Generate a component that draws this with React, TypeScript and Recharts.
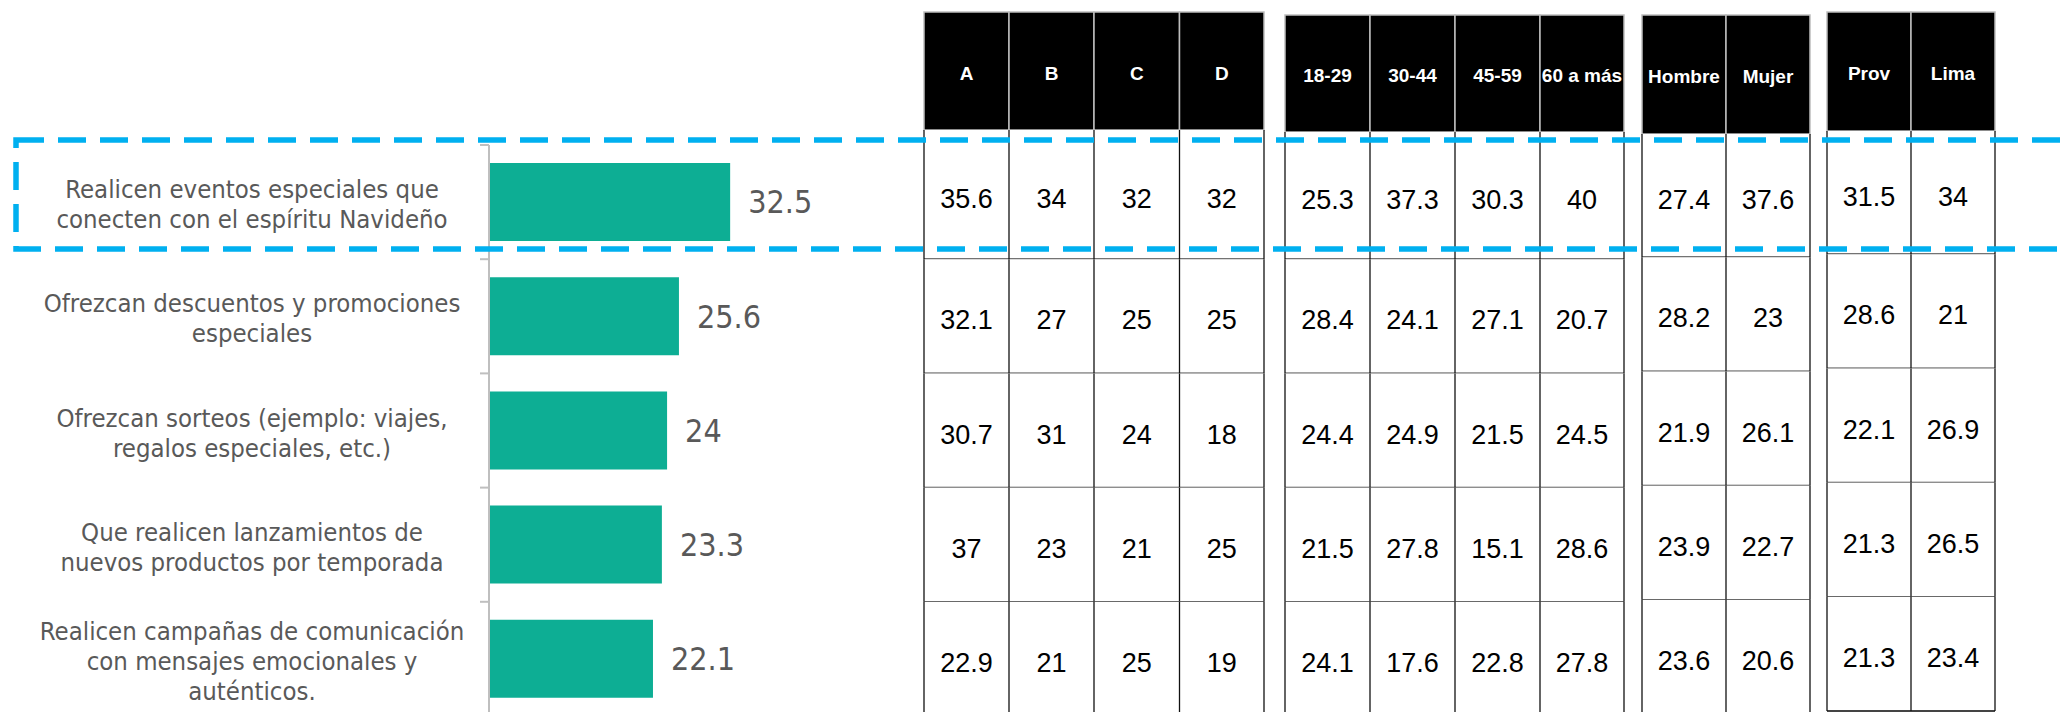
import { Bar, BarChart, Customized, LabelList, XAxis, YAxis } from "recharts"

/******************************************************************************
                              Data
******************************************************************************/

const CATEGORIES = [
  ["Realicen eventos especiales que", "conecten con el espíritu Navideño"],
  ["Ofrezcan descuentos y promociones", "especiales"],
  ["Ofrezcan sorteos (ejemplo: viajes,", "regalos especiales, etc.)"],
  ["Que realicen lanzamientos de", "nuevos productos por temporada"],
  ["Realicen campañas de comunicación", "con mensajes emocionales y", "auténticos."],
]

const TOTAL = [32.5, 25.6, 24, 23.3, 22.1]

const NSE_HEADERS = ["A", "B", "C", "D"]
const NSE_A = [35.6, 32.1, 30.7, 37, 22.9]
const NSE_B = [34, 27, 31, 23, 21]
const NSE_C = [32, 25, 24, 21, 25]
const NSE_D = [32, 25, 18, 25, 19]

const AGE_HEADERS = ["18-29", "30-44", "45-59", "60 a más"]
const AGE_18_29 = [25.3, 28.4, 24.4, 21.5, 24.1]
const AGE_30_44 = [37.3, 24.1, 24.9, 27.8, 17.6]
const AGE_45_59 = [30.3, 27.1, 21.5, 15.1, 22.8]
const AGE_60 = [40, 20.7, 24.5, 28.6, 27.8]

const GENDER_HEADERS = ["Hombre", "Mujer"]
const MALE = [27.4, 28.2, 21.9, 23.9, 23.6]
const FEMALE = [37.6, 23, 26.1, 22.7, 20.6]

const REGION_HEADERS = ["Prov", "Lima"]
const PROV = [31.5, 28.6, 22.1, 21.3, 21.3]
const LIMA = [34, 21, 26.9, 26.5, 23.4]

/******************************************************************************
                              Constants
******************************************************************************/

const LABEL_FONT =
  "'DejaVu Sans Condensed', 'Liberation Sans Narrow', 'Roboto Condensed', Roboto, sans-serif"
const TABLE_FONT = "'Liberation Sans', Arial, sans-serif"
const GREY_TEXT = "#595959"
const BAR_COLOR = "#0DAE94"
const AXIS_X = 489

const GROUPS = [
  { headers: NSE_HEADERS, cols: [NSE_A, NSE_B, NSE_C, NSE_D], edges: [924, 1009, 1094, 1179.5, 1264], headTop: 12, headBottom: 130, dy: 0 },
  { headers: AGE_HEADERS, cols: [AGE_18_29, AGE_30_44, AGE_45_59, AGE_60], edges: [1285, 1370, 1455, 1540, 1624], headTop: 15, headBottom: 132, dy: 0 },
  { headers: GENDER_HEADERS, cols: [MALE, FEMALE], edges: [1642, 1726, 1810], headTop: 15, headBottom: 134, dy: -2 },
  { headers: REGION_HEADERS, cols: [PROV, LIMA], edges: [1827, 1911, 1995], headTop: 12, headBottom: 131, dy: -5 },
]

const chartData = TOTAL.map((v, i) => ({ name: String(i), total: v }))

/******************************************************************************
                              Components
******************************************************************************/

// dashed highlight around the first row, drawn last so it sits on the table
function Highlight() {
  return (
    <rect
      x={16}
      y={140}
      width={2100}
      height={109}
      fill="none"
      stroke="#00B0F0"
      strokeWidth={5.5}
      strokeDasharray="28 14"
    />
  )
}

function CategoryTick(props: any) {
  const { y, payload } = props
  const index = payload?.index ?? props.index ?? 0
  const half = payload?.offset || 57
  const top = y - half
  const bottom = y + half
  const lines = CATEGORIES[index]
  const n = lines.length
  const isLast = index === CATEGORIES.length - 1

  return (
    <g>
      {lines.map((line, i) => (
        <text
          key={i}
          x={252}
          y={y + 2 + (i - (n - 1) / 2) * 30}
          textAnchor="middle"
          dominantBaseline="central"
          fill={GREY_TEXT}
          fontSize={25.5}
          fontFamily={LABEL_FONT}
        >
          {line}
        </text>
      ))}
      <line x1={AXIS_X - 9} x2={AXIS_X} y1={top} y2={top} stroke="#BFBFBF" strokeWidth={2} />
      {isLast && (
        <line x1={AXIS_X - 9} x2={AXIS_X} y1={bottom} y2={bottom} stroke="#BFBFBF" strokeWidth={2} />
      )}
      {GROUPS.map((g, gi) => {
        const rowTop = index === 0 ? g.headBottom : top + g.dy
        const rowBottom = bottom + g.dy
        const mid = (rowTop + rowBottom) / 2
        const left = g.edges[0]
        const right = g.edges[g.edges.length - 1]
        return (
          <g key={gi}>
            <rect x={left} y={rowTop} width={right - left} height={rowBottom - rowTop} fill="#fff" />
            <line x1={left} x2={right} y1={rowBottom} y2={rowBottom} stroke="#444" strokeWidth={1.8} />
            {g.edges.map((ex, ei) => (
              <line key={ei} x1={ex} x2={ex} y1={rowTop} y2={rowBottom} stroke="#111" strokeWidth={1.3} />
            ))}
            {g.cols.map((col, ci) => (
              <text
                key={ci}
                x={(g.edges[ci] + g.edges[ci + 1]) / 2}
                y={mid + 4}
                textAnchor="middle"
                dominantBaseline="central"
                fill="#000"
                fontSize={27}
                fontFamily={TABLE_FONT}
              >
                {col[index]}
              </text>
            ))}
          </g>
        )
      })}
      {isLast && <Highlight />}
    </g>
  )
}

function TableHeader() {
  return (
    <g>
      {GROUPS.map((g, gi) =>
        g.headers.map((h, hi) => {
          const x0 = g.edges[hi]
          const x1 = g.edges[hi + 1]
          return (
            <g key={`${gi}-${hi}`}>
              <rect
                x={x0}
                y={g.headTop}
                width={x1 - x0}
                height={g.headBottom - g.headTop}
                fill="#000"
                stroke="#BDBDBD"
                strokeWidth={1.5}
              />
              <text
                x={(x0 + x1) / 2}
                y={(g.headTop + g.headBottom) / 2 + 2}
                textAnchor="middle"
                dominantBaseline="central"
                fill="#fff"
                fontWeight="bold"
                fontSize={19}
                fontFamily={TABLE_FONT}
              >
                {h}
              </text>
            </g>
          )
        }),
      )}
    </g>
  )
}

export default function App() {
  return (
    <div
      style={{
        position: "absolute",
        left: 0,
        top: 0,
        width: 2067,
        height: 712,
        overflow: "hidden",
        background: "#fff",
      }}
    >
      <BarChart
        width={2067}
        height={716}
        data={chartData}
        layout="vertical"
        margin={{ top: 145, right: 836, bottom: 0, left: 0 }}
      >
        <XAxis type="number" domain={[0, 100]} hide />
        <YAxis
          type="category"
          dataKey="name"
          width={AXIS_X}
          axisLine={{ stroke: "#BFBFBF", strokeWidth: 2 }}
          tickLine={false}
          tick={<CategoryTick />}
          interval={0}
        />
        <Bar dataKey="total" fill={BAR_COLOR} barSize={78} isAnimationActive={false}>
          <LabelList
            dataKey="total"
            position="right"
            offset={18}
            fill={GREY_TEXT}
            fontSize={32}
            fontFamily={LABEL_FONT}
          />
        </Bar>
        <Customized component={<TableHeader />} />
      </BarChart>
    </div>
  )
}
